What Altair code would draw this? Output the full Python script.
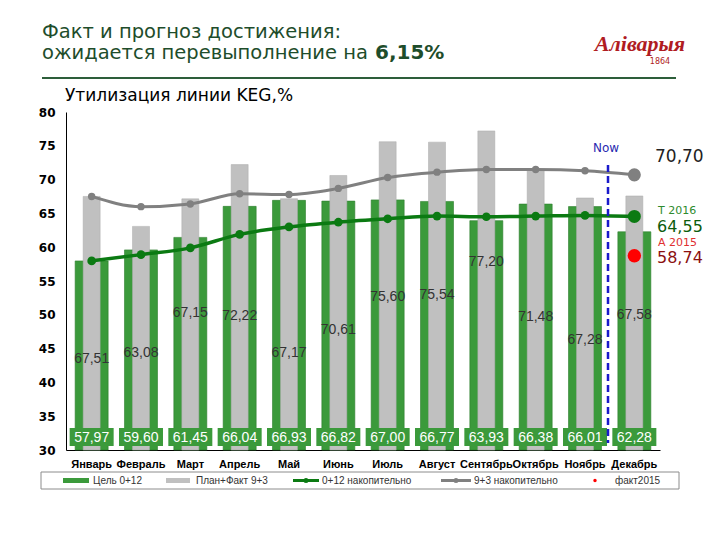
import altair as alt
import pandas as pd

months = ["Январь", "Февраль", "Март", "Апрель", "Май", "Июнь",
          "Июль", "Август", "Сентябрь", "Октябрь", "Ноябрь", "Декабрь"]
goal_0_12 = [57.97, 59.60, 61.45, 66.04, 66.93, 66.82, 67.00, 66.77, 63.93, 66.38, 66.01, 62.28]
plan_fact_9_3 = [67.51, 63.08, 67.15, 72.22, 67.17, 70.61, 75.60, 75.54, 77.20, 71.48, 67.28, 67.58]
cum_0_12 = [57.97, 58.9, 59.9, 61.9, 63.0, 63.7, 64.2, 64.6, 64.5, 64.6, 64.7, 64.55]
cum_9_3 = [67.51, 66.0, 66.4, 67.9, 67.8, 68.7, 70.3, 71.1, 71.5, 71.5, 71.3, 70.70]
fact_2015 = 58.74
gray_label_at = [43.4, 44.3, 50.2, 49.8, 44.3, 47.7, 52.7, 52.9, 57.8, 49.7, 46.2, 50.0]
y_ticks = [30, 35, 40, 45, 50, 55, 60, 65, 70, 75, 80]

def fmt(v):
    return f"{v:.2f}".replace(".", ",")

df = pd.DataFrame({
    "month": months,
    "goal": goal_0_12,
    "plan": plan_fact_9_3,
    "cg": cum_0_12,
    "cp": cum_9_3,
    "lab_y": gray_label_at,
    "goal_t": [fmt(v) for v in goal_0_12],
    "plan_t": [fmt(v) for v in plan_fact_9_3],
})
df_dec = df[df["month"] == "Декабрь"].copy()
df_red = pd.DataFrame({"month": ["Декабрь"], "v": [fact_2015]})

GREEN = "#3b9a3b"
DKGREEN = "#0b7a12"
GRAY = "#c0c0c0"
LGRAY = "#808080"
YS = alt.Scale(domain=[30, 80], nice=False, zero=False)
XS = alt.Scale(paddingInner=0, paddingOuter=0.02)

X_AXIS = alt.Axis(title=None, labelAngle=0, labelFont="Liberation Sans",
                  labelFontWeight="bold", labelFontSize=11, labelColor="#000",
                  ticks=False, domainColor="#000", labelPadding=8,
                  labelOverlap=False, grid=False)
Y_AXIS = alt.Axis(title=None, values=y_ticks, labelFont="DejaVu Sans",
                  labelFontWeight="bold", labelFontSize=12, labelColor="#000",
                  ticks=False, domainColor="#000", grid=False, labelPadding=11)

X = alt.X("month:N", sort=months, scale=XS, axis=X_AXIS, title=None)

def Y(field):
    return alt.Y(field, scale=YS, axis=Y_AXIS, title=None)

base = alt.Chart(df)

green_bars = base.mark_bar(size=33, color=GREEN, stroke="#2e7d2e", strokeWidth=0.6).encode(
    x=X, y=Y("goal:Q"), y2=alt.datum(30))
gray_bars = base.mark_bar(size=17, color=GRAY, stroke="#aaaaaa", strokeWidth=0.5).encode(
    x=X, y=Y("plan:Q"), y2=alt.datum(30))
gray_labels = base.mark_text(fontSize=14, color="#333333", font="Liberation Sans").encode(
    x=X, y=Y("lab_y:Q"), text="plan_t:N")
boxes = base.mark_bar(size=44, color=GREEN).encode(
    x=X, y=alt.value(316), y2=alt.value(334))
box_text = base.mark_text(fontSize=14, color="white", font="Liberation Sans").encode(
    x=X, y=alt.value(325.5), text="goal_t:N")

gray_line = base.mark_line(color=LGRAY, strokeWidth=3, interpolate="monotone").encode(
    x=X, y=Y("cp:Q"))
gray_pts = base.mark_circle(color=LGRAY, size=55, opacity=1).encode(x=X, y=Y("cp:Q"))
green_line = base.mark_line(color=DKGREEN, strokeWidth=3.5, interpolate="monotone").encode(
    x=X, y=Y("cg:Q"))
green_pts = base.mark_circle(color=DKGREEN, size=75, opacity=1).encode(x=X, y=Y("cg:Q"))
dec_gray = alt.Chart(df_dec).mark_circle(color=LGRAY, size=170, opacity=1).encode(x=X, y=Y("cp:Q"))
dec_green = alt.Chart(df_dec).mark_circle(color=DKGREEN, size=170, opacity=1).encode(x=X, y=Y("cg:Q"))
red_pt = alt.Chart(df_red).mark_circle(color="#ff0000", size=180, opacity=1).encode(x=X, y=Y("v:Q"))

def txt(s, x, y, size, color, weight="normal", align="left", font="DejaVu Sans", style="normal"):
    return alt.Chart(alt.Data(values=[{"t": s}])).mark_text(
        align=align, baseline="middle", fontSize=size, color=color,
        fontWeight=weight, font=font, fontStyle=style).encode(
        x=alt.value(x), y=alt.value(y), text="t:N")

def hrule(x1, x2, y, color, w, dash=None):
    kw = dict(color=color, strokeWidth=w)
    if dash:
        kw["strokeDash"] = dash
    return alt.Chart(alt.Data(values=[{}])).mark_rule(**kw).encode(
        x=alt.value(x1), x2=alt.value(x2), y=alt.value(y))

def dot(x, y, color, size):
    return alt.Chart(alt.Data(values=[{}])).mark_circle(color=color, size=size, opacity=1).encode(
        x=alt.value(x), y=alt.value(y))

now_line = alt.Chart(alt.Data(values=[{}])).mark_rule(
    color="#1a1acc", strokeWidth=2.5, strokeDash=[7, 4]).encode(
    x=alt.value(542), y=alt.value(53), y2=alt.value(331))

legend_box = alt.Chart(alt.Data(values=[{}])).mark_rect(
    fill="white", stroke="#8c8c8c", strokeWidth=1).encode(
    x=alt.value(-25), x2=alt.value(613), y=alt.value(360), y2=alt.value(377))

LY = 368.5
layers = [
    green_bars, gray_bars, gray_labels, boxes, box_text,
    gray_line, gray_pts, green_line, green_pts, dec_gray, dec_green, red_pt,
    now_line,
    txt("Now", 540, 36, 12, "#2a2ab0", align="center"),
    txt("70,70", 589, 45, 17, "#222222"),
    txt("T 2016", 592, 99, 11, "#2e8b2e"),
    txt("64,55", 591, 115, 16, "#0d5c0d"),
    txt("A 2015", 592, 131, 11, "#e03030"),
    txt("58,74", 591, 146, 16, "#8b1010"),
    # title block
    txt("Факт и прогноз достижения:", -24, -80, 19.5, "#1e4d2b"),
    txt("ожидается перевыполнение на", -24, -59, 19.5, "#1e4d2b"),
    txt("6,15%", 309, -59, 20, "#1e4d2b", weight="bold"),
    hrule(-24, 610, -34, "#2d5e3a", 2),
    txt("Утилизация линии KEG,%", -1, -16, 17, "#000000"),
    txt("Аліварыя", 574, -68, 22, "#b01c22", weight="bold", align="center",
        font="Liberation Serif", style="italic"),
    txt("1864", 594, -50, 8, "#b01c22", align="center"),
    # legend
    legend_box,
    hrule(-3, 23, LY, GREEN, 5),
    txt("Цель 0+12", 27, LY, 10, "#333333", font="Liberation Sans"),
    hrule(100, 124, LY, GRAY, 5),
    txt("План+Факт 9+3", 130, LY, 10, "#333333", font="Liberation Sans"),
    hrule(227, 253, LY, DKGREEN, 3),
    dot(240, LY, DKGREEN, 25),
    txt("0+12 накопительно", 256, LY, 10, "#333333", font="Liberation Sans"),
    hrule(375, 405, LY, LGRAY, 3),
    dot(390, LY, LGRAY, 25),
    txt("9+3 накопительно", 408, LY, 10, "#333333", font="Liberation Sans"),
    dot(529, LY, "#ff0000", 12),
    txt("факт2015", 549, LY, 10, "#333333", font="Liberation Sans"),
]

chart = alt.layer(*layers).properties(
    width=594, height=338,
    autosize=alt.AutoSizeParams(type="none"),
    padding={"left": 58, "top": 104, "right": 50, "bottom": 82},
).configure_view(stroke=None)

chart.save("out.html", embed_options={"renderer": "svg", "actions": False})
